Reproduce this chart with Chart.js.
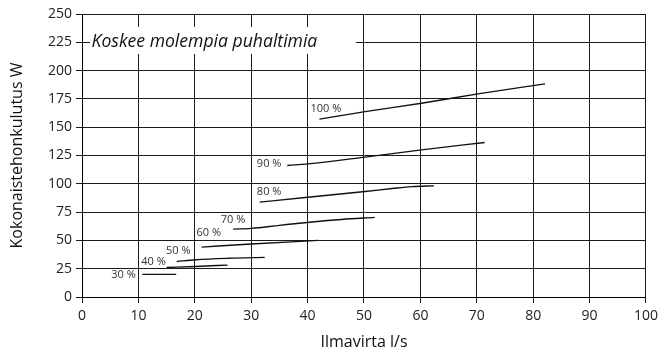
<!DOCTYPE html>
<html><head><meta charset="utf-8">
<script src="https://cdn.jsdelivr.net/npm/chart.js@4"></script>
<style>html,body{margin:0;padding:0;background:#fff}#wrap{width:663px;height:352px}</style>
</head><body><div id="wrap"><canvas id="c" width="663" height="352"></canvas></div>
<script>
const seriesNames = ['30 %','40 %','50 %','60 %','70 %','80 %','90 %','100 %'];
const x30 = [10.7, 16.7];                      const y30 = [20.0, 20.0];
const x40 = [15.0, 20.2, 25.8];                const y40 = [26.1, 27.0, 28.2];
const x50 = [16.8, 20.2, 26.0, 32.4];          const y50 = [31.4, 32.9, 34.2, 35.0];
const x60 = [21.2, 30.0, 41.9];                const y60 = [44.1, 46.8, 50.0];
const x70 = [26.8, 30.0, 35.0, 40.8, 46.0, 51.9]; const y70 = [60.0, 60.6, 63.3, 66.3, 68.5, 70.3];
const x80 = [31.5, 39.6, 50.2, 55.0, 58.5, 62.4]; const y80 = [83.8, 87.9, 93.2, 95.8, 97.5, 98.2];
const x90 = [36.4, 41.0, 50.2, 60.2, 71.4];    const y90 = [116.2, 118.0, 123.6, 130.0, 136.5];
const x100 = [42.1, 50.2, 60.2, 70.2, 82.1];   const y100 = [157.1, 163.8, 171.2, 179.4, 188.3];
const labelAnchorX = [5.2, 10.5, 14.9, 20.3, 24.6, 31.0, 31.0, 40.5];
const labelAnchorY = [19.7, 31.4, 40.9, 56.5, 68.2, 93.2, 117.7, 166.2];
const xTicks = [0,10,20,30,40,50,60,70,80,90,100];
const yTicks = [0,25,50,75,100,125,150,175,200,225,250];
const noteText = 'Koskee molempia puhaltimia';
const noteBox = {x0: 1.4, x1: 48.6, y0: 214.7, y1: 238.6, textX: 1.7, textY: 225};
const xTitle = 'Ilmavirta l/s';
const yTitle = 'Kokonaistehonkulutus W';

const xs = [x30,x40,x50,x60,x70,x80,x90,x100];
const ys = [y30,y40,y50,y60,y70,y80,y90,y100];
const datasets = xs.map((xa,i)=>({
  label: seriesNames[i],
  data: xa.map((v,j)=>({x:v,y:ys[i][j]})),
  borderColor:'#111', borderWidth:1.4, pointRadius:0, fill:false,
  cubicInterpolationMode:'monotone'
}));

const FONT = "'Open Sans', sans-serif";
const annot = {
  id:'annot',
  beforeDatasetsDraw(chart){
    const {ctx, scales:{x,y}} = chart;
    ctx.save();
    ctx.fillStyle='#fff';
    const l=x.getPixelForValue(noteBox.x0), r=x.getPixelForValue(noteBox.x1);
    const t=y.getPixelForValue(noteBox.y1), b=y.getPixelForValue(noteBox.y0);
    ctx.fillRect(l,t,r-l,b-t);
    ctx.fillStyle='#111';
    ctx.font="italic 17.6px "+FONT;
    ctx.textBaseline='middle'; ctx.textAlign='left';
    ctx.fillText(noteText, x.getPixelForValue(noteBox.textX), y.getPixelForValue(noteBox.textY));
    ctx.restore();
  },
  afterDatasetsDraw(chart){
    const {ctx, scales:{x,y}} = chart;
    ctx.save();
    ctx.fillStyle='#333';
    ctx.font="11px "+FONT;
    ctx.textBaseline='middle'; ctx.textAlign='left';
    seriesNames.forEach((n,i)=>{
      ctx.fillText(n, x.getPixelForValue(labelAnchorX[i]), y.getPixelForValue(labelAnchorY[i]));
    });
    ctx.restore();
  }
};

new Chart(document.getElementById('c'), {
  type:'line',
  data:{datasets},
  plugins:[annot],
  options:{
    responsive:false, animation:false,
    layout:{padding:{top:14,right:14,left:0,bottom:0}},
    plugins:{legend:{display:false}, tooltip:{enabled:false}},
    scales:{
      x:{type:'linear', min:0, max:100,
        afterBuildTicks(s){ s.ticks = xTicks.map(v=>({value:v})); },
        afterFit(s){ s.height = 55; },
        ticks:{color:'#222', font:{family:FONT,size:14}, padding:5, maxRotation:0},
        grid:{color:'#1a1a1a', lineWidth:1, tickLength:6, tickColor:'#1a1a1a'},
        border:{color:'#000', width:1},
        title:{display:true, text:xTitle, color:'#111', font:{family:FONT,size:16}, padding:{top:0,bottom:0}}
      },
      y:{type:'linear', min:0, max:250,
        afterBuildTicks(s){ s.ticks = yTicks.map(v=>({value:v})); },
        afterFit(s){ s.width = 82; },
        ticks:{color:'#222', font:{family:FONT,size:14}, padding:4},
        grid:{color:'#1a1a1a', lineWidth:1, tickLength:6, tickColor:'#1a1a1a'},
        border:{color:'#000', width:1},
        title:{display:true, text:yTitle, color:'#111', font:{family:FONT,size:16}, padding:{top:8,bottom:0}}
      }
    }
  }
});
</script></body></html>
